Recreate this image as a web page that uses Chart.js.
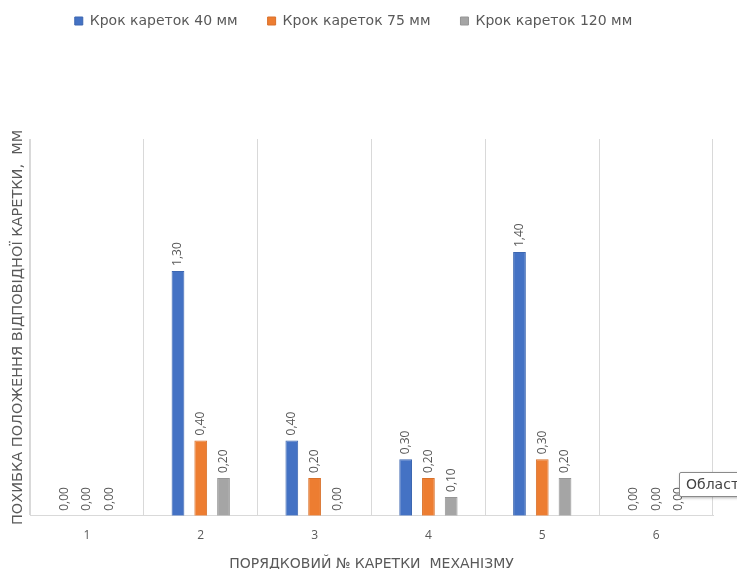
<!DOCTYPE html>
<html>
<head>
<meta charset="utf-8">
<script src="https://cdn.jsdelivr.net/npm/chart.js@4/dist/chart.umd.min.js"></script>
<style>
  body { margin: 0; background: #fff; overflow: hidden; }
  #wrap { position: relative; width: 737px; height: 569px; overflow: hidden; }
  #hint {
    position: absolute; left: 679px; top: 472px; height: 23px; width: 120px;
    border: 1px solid #8a8a8a; border-radius: 2px; background: #fff;
    box-shadow: 1px 1px 3px rgba(0,0,0,0.3);
    font: 14px "DejaVu Sans", sans-serif; color: #444; line-height: 23px;
    padding-left: 6px; white-space: nowrap;
  }
</style>
</head>
<body>
<div id="wrap">
  <canvas id="chart" width="737" height="569"></canvas>
  <div id="hint">Область побудови</div>
</div>
<script>
var categories = ['1', '2', '3', '4', '5', '6'];
var step40 = [0.00, 1.30, 0.40, 0.30, 1.40, 0.00];
var step75 = [0.00, 0.40, 0.20, 0.20, 0.30, 0.00];
var step120 = [0.00, 0.20, 0.00, 0.10, 0.20, 0.00];
var seriesNames = ['Крок кареток 40 мм', 'Крок кареток 75 мм', 'Крок кареток 120 мм'];

var textColor = '#595959';
var labelFont = '"Open Sans", "Noto Sans", sans-serif';
var titleFont = '"DejaVu Sans", sans-serif';

// vertical value labels above each bar, e.g. "1,30"
var barLabels = {
    id: 'barLabels',
    afterDatasetsDraw: function (chart) {
        var ctx = chart.ctx;
        ctx.save();
        ctx.font = '12px ' + labelFont;
        ctx.fillStyle = textColor;
        ctx.textAlign = 'left';
        ctx.textBaseline = 'middle';
        chart.data.datasets.forEach(function (ds, i) {
            var meta = chart.getDatasetMeta(i);
            meta.data.forEach(function (bar, j) {
                var txt = ds.data[j].toFixed(2).replace('.', ',');
                ctx.save();
                ctx.translate(bar.x, bar.y - 5);
                ctx.rotate(-Math.PI / 2);
                ctx.fillText(txt, 0, 0);
                ctx.restore();
            });
        });
        ctx.restore();
    }
};

// extra room between legend and plot, legend nudged a bit left
var legendGap = {
    id: 'legendGap',
    beforeInit: function (chart) {
        var fit = chart.legend.fit;
        chart.legend.fit = function () {
            fit.bind(chart.legend)();
            this.height += 101;
        };
    },
    afterLayout: function (chart) {
        chart.legend.left -= 8;
        chart.legend.right -= 8;
    }
};

var ctx = document.getElementById('chart').getContext('2d');
var chart = new Chart(ctx, {
    type: 'bar',
    data: {
        labels: categories,
        datasets: [{
            label: seriesNames[0],
            data: step40,
            backgroundColor: '#4472C4',
            borderColor: '#3d67b1',
            borderWidth: 1
        },
        {
            label: seriesNames[1],
            data: step75,
            backgroundColor: '#ED7D31',
            borderColor: '#d9712b',
            borderWidth: 1
        },
        {
            label: seriesNames[2],
            data: step120,
            backgroundColor: '#A5A5A5',
            borderColor: '#969696',
            borderWidth: 1
        }]
    },
    options: {
        responsive: false,
        animation: false,
        categoryPercentage: 0.6,
        barPercentage: 0.56,
        layout: {
            padding: { left: 10, right: 24, top: -16, bottom: -4 }
        },
        scales: {
            x: {
                grid: { color: '#d9d9d9', drawTicks: false, offset: true },
                border: { color: '#d9d9d9' },
                ticks: { color: textColor, padding: 13, font: { family: labelFont, size: 12 } },
                title: {
                    display: true,
                    text: 'ПОРЯДКОВИЙ № КАРЕТКИ  МЕХАНІЗМУ',
                    color: textColor,
                    font: { family: titleFont, size: 14 },
                    padding: { top: 0, bottom: 0 }
                }
            },
            y: {
                min: 0,
                max: 2,
                grid: { display: false },
                border: { color: '#d9d9d9' },
                ticks: { display: false },
                title: {
                    display: true,
                    text: 'ПОХИБКА ПОЛОЖЕННЯ ВІДПОВІДНОЇ КАРЕТКИ,  ММ',
                    color: textColor,
                    font: { family: titleFont, size: 14.5 },
                    padding: { top: 0, bottom: 0 }
                },
                afterFit: function (scale) {
                    scale.width = 20;
                }
            }
        },
        plugins: {
            legend: {
                position: 'top',
                labels: {
                    boxWidth: 8,
                    boxHeight: 8,
                    padding: 30,
                    color: textColor,
                    font: { family: titleFont, size: 14 }
                }
            },
            tooltip: { enabled: false }
        }
    },
    plugins: [barLabels, legendGap]
});
</script>
</body>
</html>
